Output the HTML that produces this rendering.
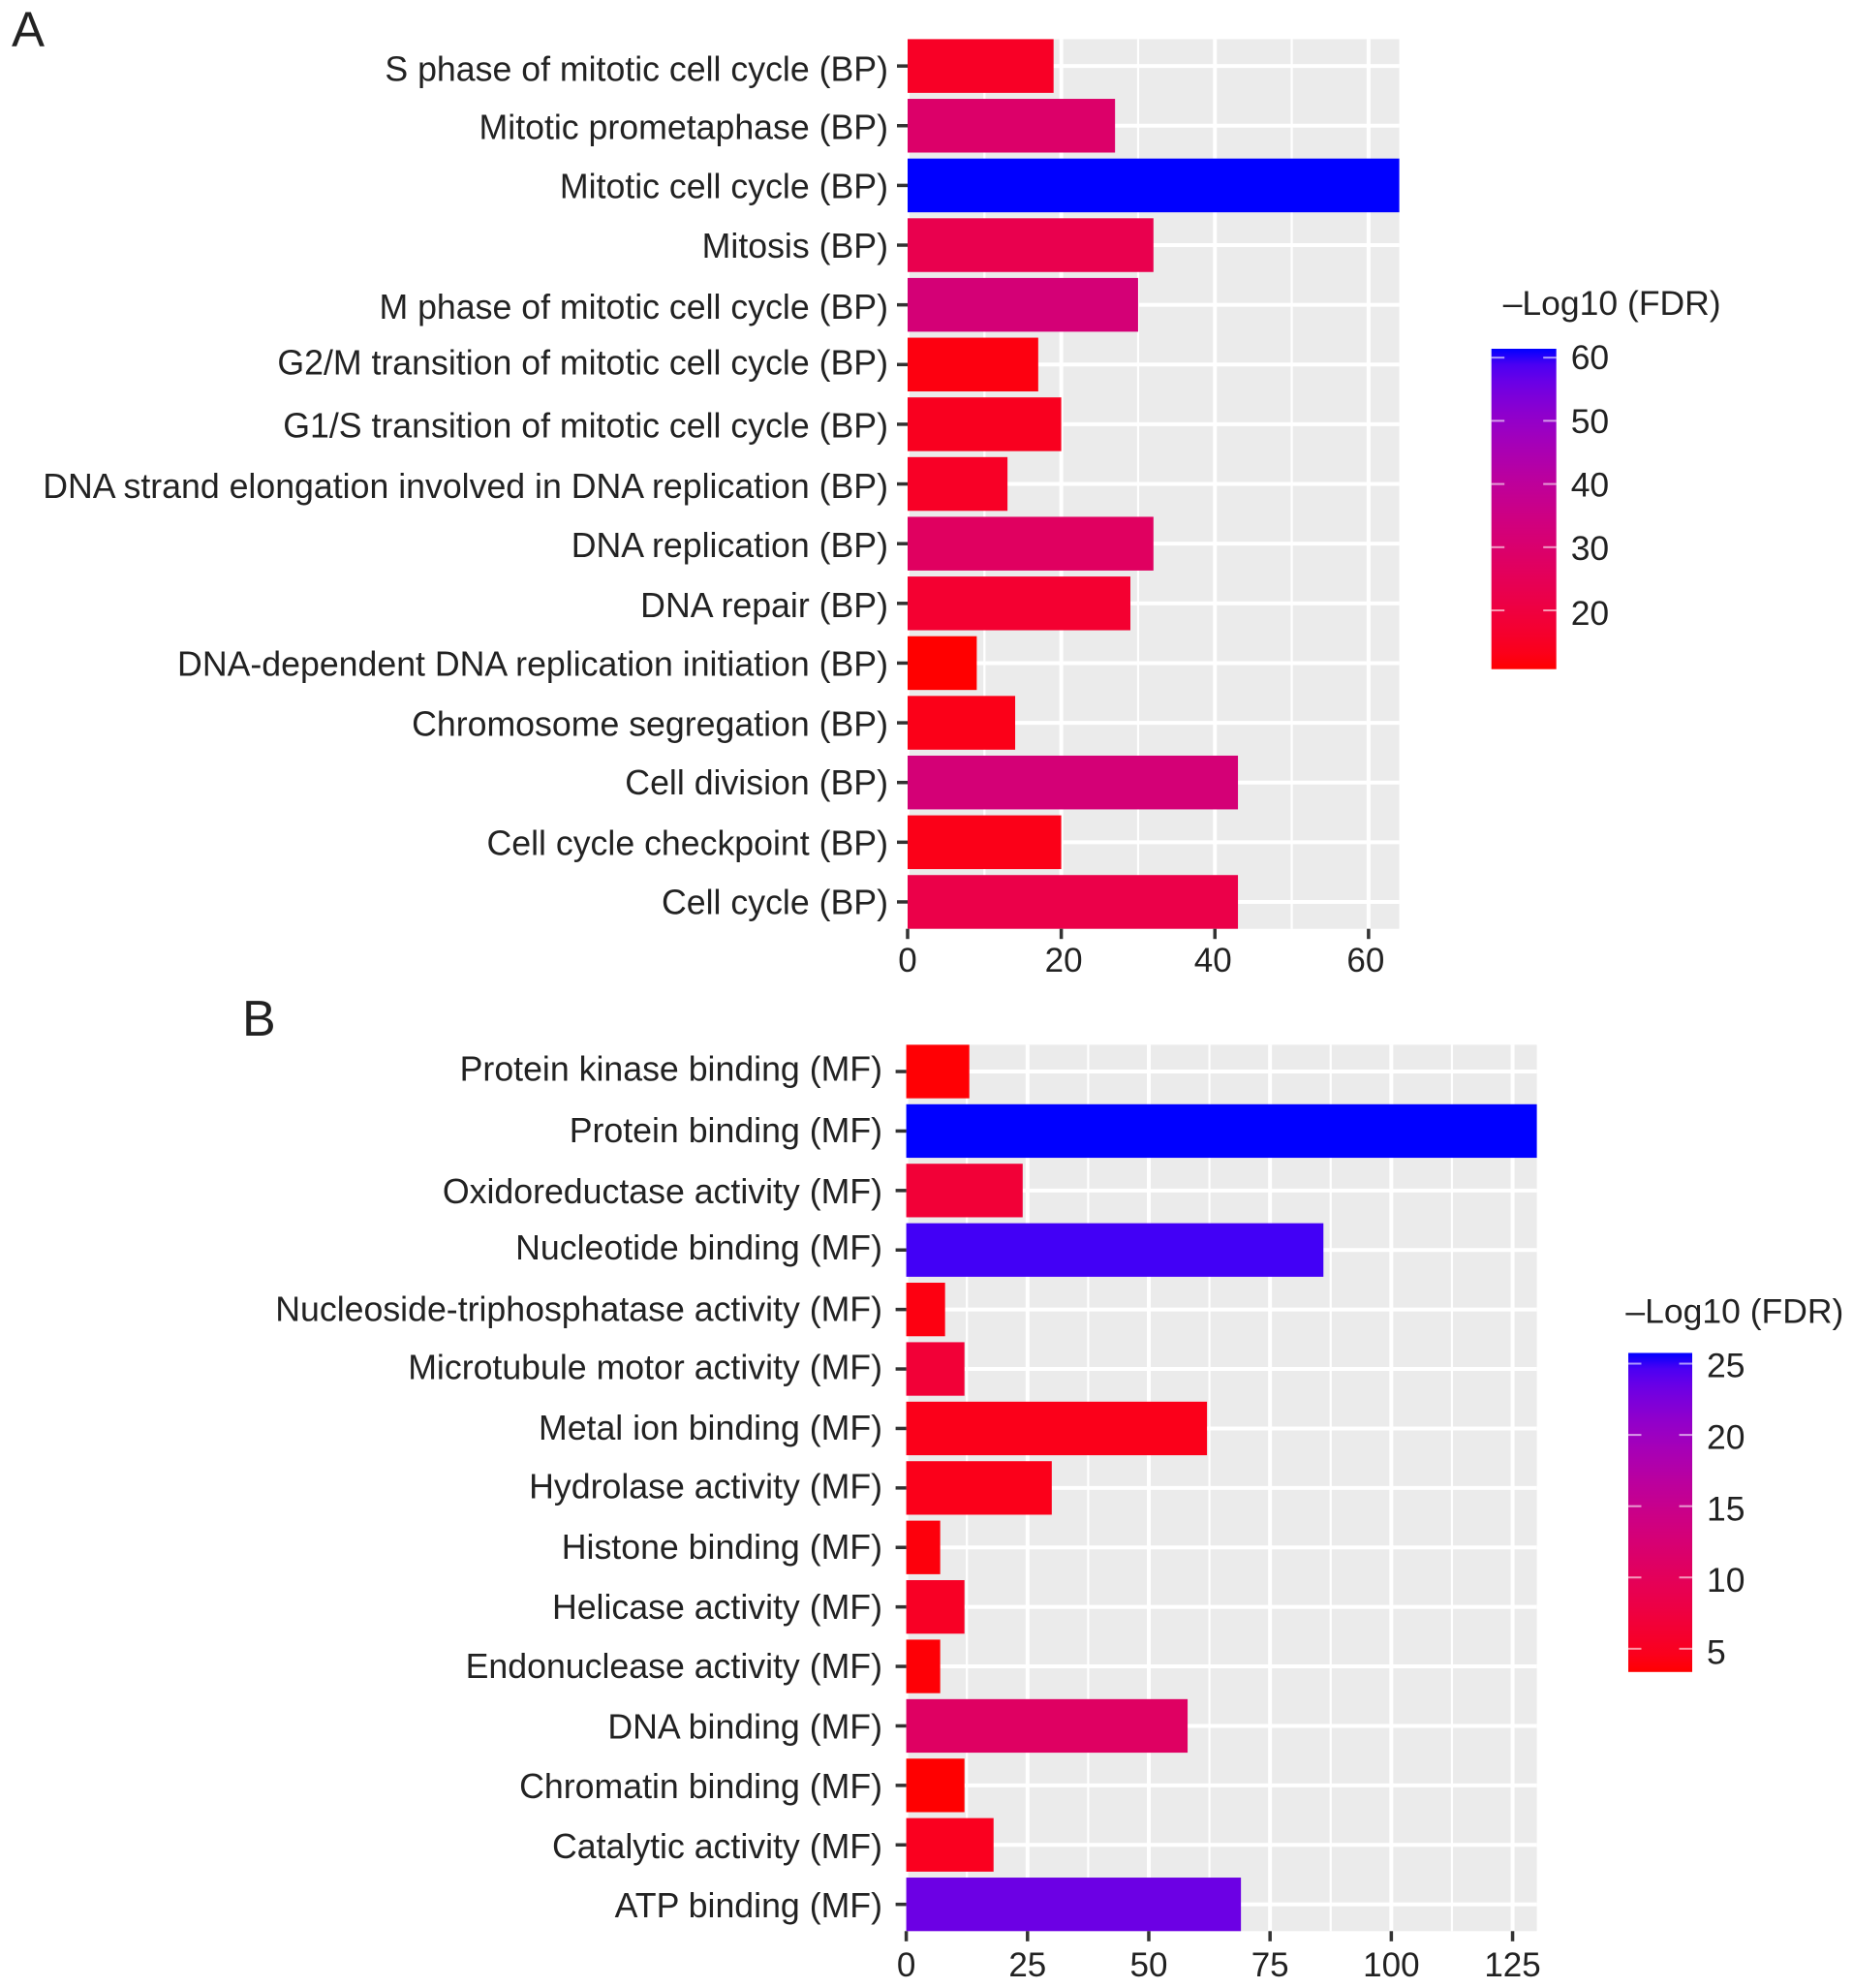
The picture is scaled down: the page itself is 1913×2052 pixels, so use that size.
<!DOCTYPE html>
<html lang="en">
<head>
<meta charset="utf-8">
<title>GO enrichment bar charts</title>
<style>
html,body{margin:0;padding:0;background:#fff;width:1913px;height:2052px;overflow:hidden}
svg{display:block}
text{font-family:"Liberation Sans",Arial,sans-serif;fill:#222}
</style>
</head>
<body>
<svg id="figure" xmlns="http://www.w3.org/2000/svg" width="1913" height="2052" viewBox="0 0 1913 2052">
<text x="12" y="48" font-size="51">A</text>
<text x="250" y="1069" font-size="52">B</text>
</svg>
<script>
// ---------- Panel A data ----------
const categoriesA = ["S phase of mitotic cell cycle (BP)","Mitotic prometaphase (BP)","Mitotic cell cycle (BP)","Mitosis (BP)","M phase of mitotic cell cycle (BP)","G2/M transition of mitotic cell cycle (BP)","G1/S transition of mitotic cell cycle (BP)","DNA strand elongation involved in DNA replication (BP)","DNA replication (BP)","DNA repair (BP)","DNA-dependent DNA replication initiation (BP)","Chromosome segregation (BP)","Cell division (BP)","Cell cycle checkpoint (BP)","Cell cycle (BP)"];
const countsA = [19,27,64,32,30,17,20,13,32,29,9,14,43,20,43];
const fdrA = [15,29,61.4,23,32,12,14,15,27,17,10.7,13,32,13,22];
const xTicksA = [0,20,40,60];
const xMinorA = [10,30,50];
const xMaxA = 64;
const legendTicksA = [60,50,40,30,20];
const legendRangeA = [10.7,61.4];

// ---------- Panel B data ----------
const categoriesB = ["Protein kinase binding (MF)","Protein binding (MF)","Oxidoreductase activity (MF)","Nucleotide binding (MF)","Nucleoside-triphosphatase activity (MF)","Microtubule motor activity (MF)","Metal ion binding (MF)","Hydrolase activity (MF)","Histone binding (MF)","Helicase activity (MF)","Endonuclease activity (MF)","DNA binding (MF)","Chromatin binding (MF)","Catalytic activity (MF)","ATP binding (MF)"];
const countsB = [13,130,24,86,8,12,62,30,7,12,7,58,12,18,69];
const fdrB = [3.5,25.75,6.7,24.9,4,6.7,4.5,4.5,3.8,5.2,3.6,10.8,3.4,4.8,23.3];
const xTicksB = [0,25,50,75,100,125];
const xMinorB = [12.5,37.5,62.5,87.5,112.5];
const xMaxB = 130;
const legendTicksB = [25,20,15,10,5];
const legendRangeB = [3.37,25.75];

const legendTitle = "\u2013Log10 (FDR)";

// ---------- colour scale: red -> blue interpolated in CIE Lab ----------
function rgbToLab(c){
  const l = c.map(v=>{v/=255;return v<=0.04045?v/12.92:Math.pow((v+0.055)/1.055,2.4);});
  const X=(0.4124564*l[0]+0.3575761*l[1]+0.1804375*l[2])/0.95047;
  const Y=(0.2126729*l[0]+0.7151522*l[1]+0.0721750*l[2]);
  const Z=(0.0193339*l[0]+0.1191920*l[1]+0.9503041*l[2])/1.08883;
  const f=t=>t>0.008856?Math.cbrt(t):7.787*t+16/116;
  return [116*f(Y)-16,500*(f(X)-f(Y)),200*(f(Y)-f(Z))];
}
function labToRgb(L){
  const fy=(L[0]+16)/116,fx=L[1]/500+fy,fz=fy-L[2]/200;
  const g=t=>t*t*t>0.008856?t*t*t:(t-16/116)/7.787;
  const X=g(fx)*0.95047,Y=g(fy),Z=g(fz)*1.08883;
  const lin=[3.2404542*X-1.5371385*Y-0.4985314*Z,-0.9692660*X+1.8760108*Y+0.0415560*Z,0.0556434*X-0.2040259*Y+1.0572252*Z];
  return lin.map(v=>{v=Math.max(0,Math.min(1,v));return Math.round(255*(v<=0.0031308?12.92*v:1.055*Math.pow(v,1/2.4)-0.055));});
}
const labLow = rgbToLab([255,0,0]);
const labHigh = rgbToLab([0,0,255]);
function colorAt(t){
  t=Math.max(0,Math.min(1,t));
  const c=labToRgb(labLow.map((v,i)=>v+(labHigh[i]-v)*t));
  return "rgb("+c.join(",")+")";
}

// ---------- drawing ----------
const NS = "http://www.w3.org/2000/svg";
const svg = document.getElementById("figure");
function make(tag, attrs, parent){
  const el = document.createElementNS(NS, tag);
  for (const k in attrs) el.setAttribute(k, attrs[k]);
  (parent||svg).appendChild(el);
  return el;
}

function drawPanel(id, categories, counts, fdr, xTicks, xMinor, xMax, range, legendTicks, g){
  const xScale = v => g.left + (v / xMax) * (g.right - g.left);
  const step = (g.bottom - g.top) / (categories.length - 0.1);
  const barH = step * 0.9;
  const bandTop = i => g.top + i * step;
  const bandMid = i => bandTop(i) + barH / 2;
  const colorScale = v => colorAt((v - range[0]) / (range[1] - range[0]));

  const bg = make("rect", {x:g.left, y:g.top, width:g.right-g.left, height:g.bottom-g.top, fill:"#ebebeb"});
  
  

  xMinor.forEach(v => {
    const line = make("line", {x1:xScale(v), x2:xScale(v), y1:g.top, y2:g.bottom, stroke:"#fff", "stroke-width":2.2});
    
    
  });
  xTicks.forEach(v => {
    const line = make("line", {x1:xScale(v), x2:xScale(v), y1:g.top, y2:g.bottom, stroke:"#fff", "stroke-width":4});
    
    
  });
  categories.forEach((c, i) => {
    const line = make("line", {x1:g.left, x2:g.right, y1:bandMid(i), y2:bandMid(i), stroke:"#fff", "stroke-width":4});
    
    
  });

  categories.forEach((c, i) => {
    const bar = make("rect", {x:g.left, y:bandTop(i), width:xScale(counts[i])-g.left, height:barH, fill:colorScale(fdr[i])});
    
    

    const tick = make("line", {x1:g.left-11, x2:g.left, y1:bandMid(i), y2:bandMid(i), stroke:"#333", "stroke-width":3.5});
    
    

    const label = make("text", {x:g.labelRight, y:bandMid(i)+g.labelShift[i], "font-size":35.7, "text-anchor":"end"});
    label.textContent = c;
    
    
  });

  xTicks.forEach((v, i) => {
    const tick = make("line", {x1:xScale(v), x2:xScale(v), y1:g.bottom, y2:g.bottom+10.5, stroke:"#333", "stroke-width":3.5});
    
    

    const label = make("text", {x:xScale(v)+g.xLabelShift[i], y:g.bottom+g.xLabelDy, "font-size":35, "text-anchor":"middle"});
    label.textContent = v;
    
    
  });

  // legend
  const title = make("text", {x:g.legTitleX, y:g.legTitleY, "font-size":35.5});
  title.textContent = legendTitle;
  
  

  const gradId = id + "-gradient";
  const defs = make("defs", {});
  const grad = make("linearGradient", {id:gradId, x1:0, x2:0, y1:1, y2:0}, defs);
  for (let s = 0; s <= 20; s++) make("stop", {offset:s/20, "stop-color":colorAt(s/20)}, grad);

  const ramp = make("rect", {x:g.legLeft, y:g.legTop, width:g.legRight-g.legLeft, height:g.legBottom-g.legTop, fill:"url(#"+gradId+")"});
  
  

  const legendY = v => g.legBottom - (v - range[0]) / (range[1] - range[0]) * (g.legBottom - g.legTop);
  legendTicks.forEach((v, i) => {
    const left = make("line", {x1:g.legLeft, x2:g.legLeft+13.5, y1:legendY(v), y2:legendY(v), stroke:"rgba(255,255,255,.6)", "stroke-width":2});
    
    

    const right = make("line", {x1:g.legRight-13.5, x2:g.legRight, y1:legendY(v), y2:legendY(v), stroke:"rgba(255,255,255,.6)", "stroke-width":2});
    
    

    const label = make("text", {x:g.legRight+15, y:legendY(v)+g.legLabelShift[i], "font-size":35.5});
    label.textContent = v;
    
    
  });
}

drawPanel("panel-a", categoriesA, countsA, fdrA, xTicksA, xMinorA, xMaxA, legendRangeA, legendTicksA, {
  left:937, right:1444.6, top:40.4, bottom:958.7, labelRight:917, xLabelDy:44.5,
  labelShift:[15.2,13.5,12.9,12.9,14.2,10.3,13.7,14.2,14,14,13,13.5,12.3,13,12.3],
  xLabelShift:[0,2.5,-2,-3],
  legLabelShift:[12,12.4,12.7,13,15],
  legTitleX:1551.7, legTitleY:325, legLeft:1539.7, legRight:1606.7, legTop:360, legBottom:690.7
});
drawPanel("panel-b", categoriesB, countsB, fdrB, xTicksB, xMinorB, xMaxB, legendRangeB, legendTicksB, {
  left:935.6, right:1586.6, top:1078.4, bottom:1993.3, labelRight:911, xLabelDy:46.7,
  labelShift:[9.5,11.7,13,9.7,11.7,10.3,11.7,10.5,11.7,12.3,11.7,13,13,13.5,13.5],
  xLabelShift:[0,0,0,0,0,0],
  legLabelShift:[14,14.5,15,15,15.5],
  legTitleX:1678.4, legTitleY:1365.5, legLeft:1681, legRight:1747, legTop:1396.5, legBottom:1725.8
});
</script>
</body>
</html>
